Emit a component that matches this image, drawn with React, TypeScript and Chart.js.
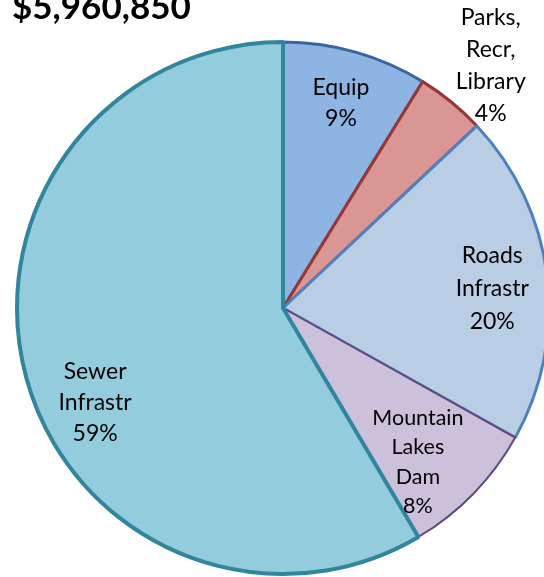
import React, { useEffect, useRef } from "react";
import { Chart, registerables } from "chart.js";

Chart.register(...registerables);

const title = "$5,960,850";
const categories: string[][] = [
  ["Equip"],
  ["Parks,", "Recr,", "Library"],
  ["Roads", "Infrastr"],
  ["Mountain", "Lakes", "Dam"],
  ["Sewer", "Infrastr"],
];
const shares = [8.8, 4.2, 20.1, 8.4, 58.5];

const fills = ["#8EB4E3", "#D99694", "#B9CDE5", "#CCC1DA", "#93CDDD"];
const borders = ["#3B64A0", "#953735", "#4F81BD", "#604A7B", "#31859C"];
const borderWidths = [3, 3, 3, 2, 4];
// label placement: angle (deg clockwise from top) and radius fraction
const labelPlace = [
  { a: 15.8, r: 0.8, size: 23, lh: 31 },
  { a: 40.6, r: 1.2, size: 23, lh: 32 },
  { a: 84.7, r: 0.79, size: 23, lh: 33 },
  { a: 138.8, r: 0.77, size: 21.5, lh: 29.3 },
  { a: 243.4, r: 0.79, size: 23, lh: 31 },
];

const W = 600;
const H = 577;

const labelPlugin = {
  id: "sliceLabels",
  afterDatasetsDraw(chart: any) {
    const ctx = chart.ctx as CanvasRenderingContext2D;
    const meta = chart.getDatasetMeta(0);
    const total = shares.reduce((s, v) => s + v, 0);
    ctx.save();
    ctx.fillStyle = "#000";
    ctx.textAlign = "center";
    ctx.textBaseline = "middle";
    meta.data.forEach((arc: any, i: number) => {
      const p = labelPlace[i];
      const ang = (p.a * Math.PI) / 180;
      const cx = arc.x + Math.sin(ang) * arc.outerRadius * p.r;
      const cy = arc.y - Math.cos(ang) * arc.outerRadius * p.r;
      const lines = [...categories[i], Math.round((shares[i] / total) * 100) + "%"];
      ctx.font = `${p.size}px Lato`;
      const n = lines.length;
      lines.forEach((t, k) => {
        ctx.fillText(t, cx, cy + (k - (n - 1) / 2) * p.lh);
      });
    });
    ctx.font = "bold 35px Lato";
    ctx.textAlign = "left";
    ctx.textBaseline = "alphabetic";
    ctx.fillText(title, 12, 19);
    ctx.restore();
  },
};

export default function App() {
  const ref = useRef<HTMLCanvasElement | null>(null);
  useEffect(() => {
    document.body.style.margin = "0";
    document.body.style.overflow = "hidden";
    const canvas = ref.current!;
    const chart = new Chart(canvas, {
      type: "pie",
      data: {
        labels: categories.map((c) => c.join(" ")),
        datasets: [
          {
            data: shares,
            backgroundColor: fills,
            borderColor: borders,
            borderWidth: borderWidths,
          },
        ],
      },
      options: {
        responsive: false,
        animation: false,
        radius: 266,
        layout: { padding: { left: 16, top: 41, right: W - 16 - 534, bottom: H - 41 - 534 } },
        plugins: {
          legend: { display: false },
          tooltip: { enabled: false },
          title: { display: false },
        },
      },
      plugins: [labelPlugin],
    });
    return () => chart.destroy();
  }, []);
  return (
    <div style={{ position: "fixed", left: 0, top: 0, width: W, height: H, background: "#fff" }}>
      <canvas ref={ref} width={W} height={H} style={{ width: W, height: H }} />
    </div>
  );
}
